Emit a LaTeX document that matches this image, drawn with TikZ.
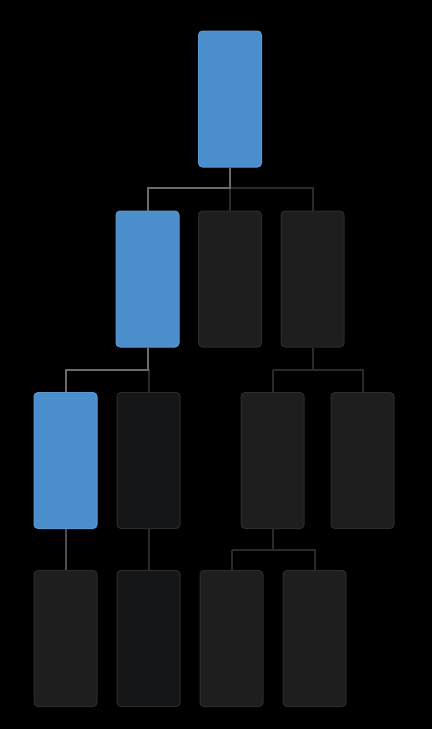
\documentclass[tikz,border=0pt]{standalone}
\begin{document}
\begin{tikzpicture}[x=1pt,y=-1pt,
  box/.style={rounded corners=4pt,line width=1pt,minimum width=63pt,minimum height=136pt,inner sep=0pt},
  hot/.style={box,fill=hotblue,draw=hotedge},
  cold/.style={box,fill=coldfill,draw=coldedge},
  coldB/.style={box,fill=coldfillB,draw=coldedge},
  litline/.style={draw=litgray,line width=2pt},
  midline/.style={draw=midgray,line width=2pt},
  darkline/.style={draw=darkgray2,line width=2pt}]
\definecolor{hotblue}{HTML}{4A8ECB}
\definecolor{hotedge}{HTML}{5A9AD3}
\definecolor{coldfill}{HTML}{1E1E1E}
\definecolor{coldfillB}{HTML}{141617}
\definecolor{coldedge}{HTML}{2C2C2C}
\definecolor{litgray}{HTML}{6A6A6A}
\definecolor{midgray}{HTML}{4E4E4E}
\definecolor{darkgray2}{HTML}{2A2A2A}
\fill[black] (0,0) rectangle (432,729);
\useasboundingbox (0,0) rectangle (432,729);
\coordinate (j1) at (230,188);
\coordinate (j2) at (147.5,370);
\coordinate (j3) at (312.5,370);
\coordinate (j4) at (272.5,550);
% nodes
\node[hot] (root) at (230,99) {};
\node[hot] (a) at (147.5,279) {};
\node[cold] (b) at (230,279) {};
\node[cold] (c) at (312.5,279) {};
\node[hot] (d) at (65.5,460.5) {};
\node[coldB] (e) at (148.5,460.5) {};
\node[cold] (f) at (272.5,460.5) {};
\node[cold] (g) at (362.5,460.5) {};
\node[cold] (h) at (65.5,638.5) {};
\node[coldB] (i) at (148.5,638.5) {};
\node[cold] (jj) at (231.5,638.5) {};
\node[cold] (k) at (314.5,638.5) {};
% dark connectors
\draw[darkline] (j1) -| (c.north);
\draw[darkline] (j1) -- (b.north);
\draw[darkline] (j2) -| (e.north);
\draw[darkline] (c.south) -- (j3);
\draw[darkline] (j3 -| f.north) -| (g.north);
\draw[darkline] (j3 -| f.north) -- (f.north);
\draw[darkline] (e.south) -- (i.north);
\draw[darkline] (f.south) -- (j4);
\draw[darkline] (j4 -| jj.north) -| (k.north);
\draw[darkline] (j4 -| jj.north) -- (jj.north);
% lit connectors
\draw[litline] (root.south) -- (j1) -| (a.north);
\draw[litline] (a.south) -- (j2) -| (d.north);
\draw[midline] (d.south) -- (h.north);
\end{tikzpicture}
\end{document}
